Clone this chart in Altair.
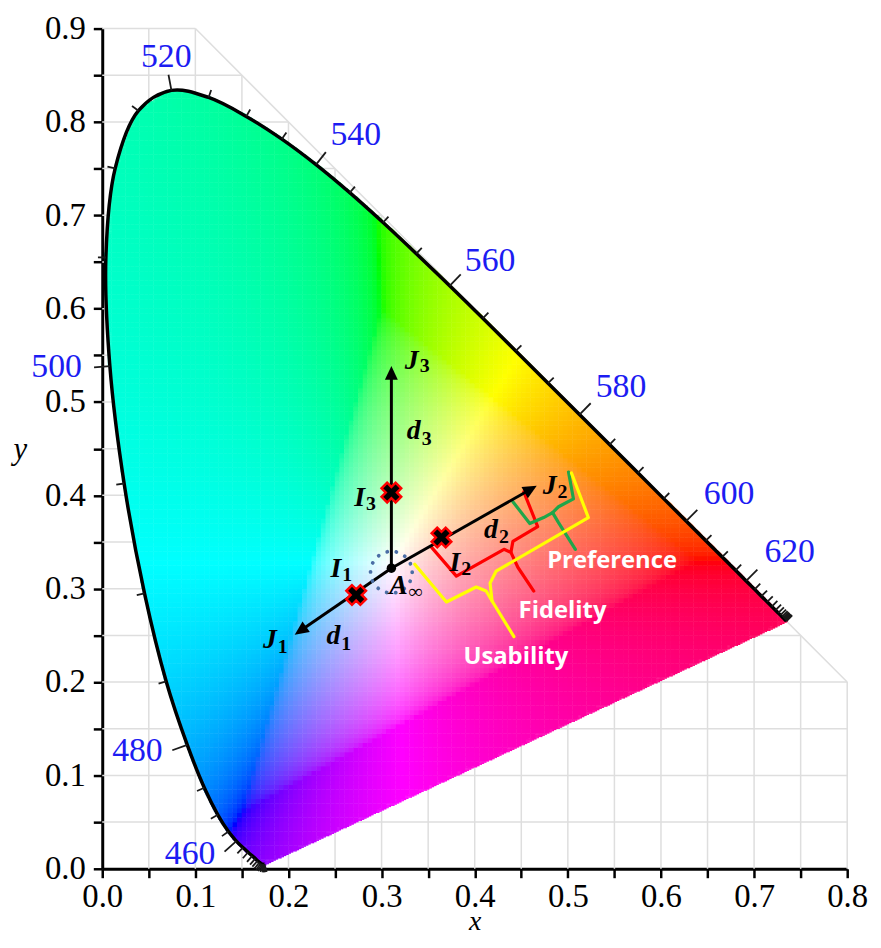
import numpy as np
import pandas as pd
import altair as alt

alt.data_transformers.disable_max_rows()

# ---------------- data ----------------
WAVELENGTH = list(range(380, 701, 5))
LOCUS_X = [0.1741, 0.1740, 0.1738, 0.1736, 0.1733, 0.1730, 0.1726, 0.1721, 0.1714, 0.1703,
           0.1689, 0.1669, 0.1644, 0.1611, 0.1566, 0.1510, 0.1440, 0.1355, 0.1241, 0.1096,
           0.0913, 0.0687, 0.0454, 0.0235, 0.0082, 0.0039, 0.0139, 0.0389, 0.0743, 0.1142,
           0.1547, 0.1929, 0.2296, 0.2658, 0.3016, 0.3373, 0.3731, 0.4087, 0.4441, 0.4788,
           0.5125, 0.5448, 0.5752, 0.6029, 0.6270, 0.6482, 0.6658, 0.6801, 0.6915, 0.7006,
           0.7079, 0.7140, 0.7190, 0.7230, 0.7260, 0.7283, 0.7300, 0.7311, 0.7320, 0.7327,
           0.7334, 0.7340, 0.7344, 0.7346, 0.7347]
LOCUS_Y = [0.0050, 0.0050, 0.0049, 0.0049, 0.0048, 0.0048, 0.0048, 0.0048, 0.0051, 0.0058,
           0.0069, 0.0086, 0.0109, 0.0138, 0.0177, 0.0227, 0.0297, 0.0399, 0.0578, 0.0868,
           0.1327, 0.2007, 0.2950, 0.4127, 0.5384, 0.6548, 0.7502, 0.8120, 0.8338, 0.8262,
           0.8059, 0.7816, 0.7543, 0.7243, 0.6923, 0.6589, 0.6245, 0.5896, 0.5547, 0.5202,
           0.4866, 0.4544, 0.4242, 0.3965, 0.3725, 0.3514, 0.3340, 0.3197, 0.3083, 0.2993,
           0.2920, 0.2859, 0.2809, 0.2770, 0.2740, 0.2717, 0.2700, 0.2689, 0.2680, 0.2673,
           0.2666, 0.2660, 0.2656, 0.2654, 0.2653]

LABEL_NM = ["460", "480", "500", "520", "540", "560", "580", "600", "620"]
LABEL_X = [0.0943, 0.0378, -0.0490, 0.0687, 0.2722, 0.4165, 0.5571, 0.6732, 0.7382]
LABEL_Y = [0.0154, 0.1259, 0.5377, 0.8692, 0.7858, 0.6514, 0.5164, 0.4011, 0.3395]

X_TICKS = [0.0, 0.05, 0.1, 0.15, 0.2, 0.25, 0.3, 0.35, 0.4, 0.45, 0.5, 0.55, 0.6, 0.65, 0.7, 0.75, 0.8]
Y_TICKS = [0.0, 0.05, 0.1, 0.15, 0.2, 0.25, 0.3, 0.35, 0.4, 0.45, 0.5, 0.55, 0.6, 0.65, 0.7, 0.75, 0.8,
           0.85, 0.9]
X_GRID = X_TICKS[1:]
Y_GRID = Y_TICKS[1:]

ORIGIN_X, ORIGIN_Y = 0.3105, 0.3220          # A_infinity
ARROW_TIP_X = [0.2067, 0.4666, 0.3105]       # J1, J2, J3
ARROW_TIP_Y = [0.2508, 0.4102, 0.5387]
MARK_X = [0.2727, 0.3643, 0.3105]            # I1, I2, I3
MARK_Y = [0.2933, 0.3549, 0.4030]
CIRCLE_X, CIRCLE_Y = 0.3105, 0.3177

# symbol labels: main letter ends / subscript starts at JOIN_X
MATH_MAIN = ["J", "d", "I", "I", "A", "J", "d", "I", "d", "J"]
MATH_SUB = ["3", "3", "3", "1", "∞", "1", "1", "2", "2", "2"]
JOIN_X = [0.3398, 0.3420, 0.2823, 0.2567, 0.3281, 0.1875, 0.2557, 0.3846, 0.4250, 0.4879]
MATH_MAIN_Y = [0.5440, 0.4686, 0.3974, 0.3209, 0.3028, 0.2455, 0.2497, 0.3273, 0.3623, 0.4102]
MATH_SUB_Y = [0.5387, 0.4601, 0.3910, 0.3145, 0.2965, 0.2380, 0.2412, 0.3209, 0.3549, 0.4038]

WORDS = ["Preference", "Fidelity", "Usability"]
WORD_X = [0.5475, 0.4943, 0.4442]
WORD_Y = [0.3294, 0.2763, 0.2263]

YELLOW_A_X = [0.3356, 0.3696, 0.4016, 0.4123, 0.4186, 0.4421]
YELLOW_A_Y = [0.3262, 0.2858, 0.3018, 0.2975, 0.2869, 0.2486]
YELLOW_B_X = [0.5039, 0.5220, 0.4229, 0.4165, 0.4186]
YELLOW_B_Y = [0.4240, 0.3762, 0.3188, 0.3060, 0.2869]
RED_A_X = [0.3537, 0.3803, 0.4314, 0.4389, 0.4463, 0.4634]
RED_A_Y = [0.3443, 0.3135, 0.3422, 0.3390, 0.3230, 0.2975]
RED_B_X = [0.4527, 0.4676, 0.4410, 0.4389]
RED_B_Y = [0.4038, 0.3666, 0.3507, 0.3390]
GREEN_A_X = [0.4410, 0.4591, 0.4740, 0.4836, 0.4900, 0.5081]
GREEN_A_Y = [0.3932, 0.3698, 0.3762, 0.3815, 0.3708, 0.3422]
GREEN_B_X = [0.5007, 0.5060, 0.4900, 0.4836]
GREEN_B_Y = [0.4250, 0.3963, 0.3878, 0.3815]

# ---------------- helpers ----------------
W, H = 751, 847
PXX = W / 0.8
PXY = H / 0.9
XS = alt.Scale(domain=[0, 0.8], nice=False, zero=False)
YS = alt.Scale(domain=[0, 0.9], nice=False, zero=False)
SERIF = "Liberation Serif, Times New Roman, serif"
LABEL_EXPR = "(round(datum.value*100) % 10 == 0) ? format(datum.value, '.1f') : ''"

x_axis = alt.Axis(values=X_TICKS, labelExpr=LABEL_EXPR,
                  title="x", grid=False, tickSize=9, tickWidth=2.5, tickColor="black",
                  domainColor="black", domainWidth=3, labelFont=SERIF,
                  labelFontSize=33, labelColor="black", labelPadding=3, labelFlush=False,
                  labelOverlap=False, titleFont=SERIF, titleFontSize=28,
                  titleFontStyle="italic", titleFontWeight="normal", titleColor="black",
                  titleBaseline="alphabetic", titleY=61)
y_axis = alt.Axis(values=Y_TICKS, labelExpr=LABEL_EXPR,
                  title="y", grid=False, tickSize=9, tickWidth=2.5, tickColor="black",
                  domainColor="black", domainWidth=3, labelFont=SERIF,
                  labelFontSize=33, labelColor="black", labelPadding=8, labelFlush=False,
                  labelOverlap=False, titleFont=SERIF, titleFontSize=31,
                  titleFontStyle="italic", titleFontWeight="normal", titleColor="black",
                  titleAngle=0, titleAlign="center", titleBaseline="alphabetic",
                  titleX=-83, titleY=433)


def X(f):
    return alt.X(f, type="quantitative", scale=XS, axis=x_axis, title="x")


def Y(f):
    return alt.Y(f, type="quantitative", scale=YS, axis=y_axis, title="y")


lx = np.array(LOCUS_X)
ly = np.array(LOCUS_Y)

# ---------- chromaticity colour field (cells clipped to the locus) ----------
fine = 0.00125
nxf, nyf = 592, 672
fx = (np.arange(nxf) + 0.5) * fine
fy = (np.arange(nyf) + 0.5) * fine
FX, FY = np.meshgrid(fx, fy)
inside = np.zeros(FX.shape, bool)
near = np.full(FX.shape, 1.0)
n = len(lx)
j = n - 1
for i in range(n):
    xi, yi, xj, yj = lx[i], ly[i], lx[j], ly[j]
    cond = ((yi > FY) != (yj > FY))
    with np.errstate(divide="ignore", invalid="ignore"):
        xcross = (xj - xi) * (FY - yi) / (yj - yi) + xi
    inside ^= cond & (FX < xcross)
    dx, dy = xj - xi, yj - yi
    L2 = dx * dx + dy * dy
    if L2 > 0:
        t = np.clip(((FX - xi) * dx + (FY - yi) * dy) / L2, 0, 1)
        near = np.minimum(near, np.hypot(FX - xi - t * dx, FY - yi - t * dy))
    j = i
mask = inside | (near < 0.0013)
B = mask.reshape(nyf // 4, 4, nxf // 4, 4)
full = B.all(axis=(1, 3))
partial = B.any(axis=(1, 3)) & ~full
fine_mask = mask & np.repeat(np.repeat(partial, 4, 0), 4, 1)


def xy_to_hex(x, y):
    Xc = x / y
    Zc = (1 - x - y) / y
    r = 3.2406 * Xc - 1.5372 - 0.4986 * Zc
    g = -0.9689 * Xc + 1.8758 + 0.0415 * Zc
    b = 0.0557 * Xc - 0.2040 + 1.0570 * Zc
    rgb = np.stack([r, g, b], -1)
    mn = rgb.min(-1, keepdims=True)
    rgb = np.where(mn < 0, rgb - mn, rgb)
    rgb = rgb / rgb.max(-1, keepdims=True)
    s = np.where(rgb <= 0.0031308, 12.92 * rgb, 1.055 * np.power(rgb, 1 / 2.4) - 0.055)
    v = np.round(np.clip(s, 0, 1) * 255).astype(int)
    return ["#%02x%02x%02x" % (a, b_, c) for a, b_, c in v]


ci, cj = np.nonzero(full)
cx = (cj + 0.5) * 0.005
cy = (ci + 0.5) * 0.005
coarse_df = pd.DataFrame({"x": np.round(cx, 5), "y": np.round(cy, 5), "c": xy_to_hex(cx, cy)})
fi, fj = np.nonzero(fine_mask)
fxx = (fj + 0.5) * fine
fyy = (fi + 0.5) * fine
fine_df = pd.DataFrame({"x": np.round(fxx, 6), "y": np.round(fyy, 6), "c": xy_to_hex(fxx, fyy)})

# ---------------- grid ----------------
grid_rows = []
for gx in X_GRID:
    grid_rows.append(dict(x=gx, y=0.0, x2=gx, y2=min(0.9, 1 - gx)))
for gy in Y_GRID:
    grid_rows.append(dict(x=0.0, y=gy, x2=min(0.8, 1 - gy), y2=gy))
grid_rows.append(dict(x=0.1, y=0.9, x2=0.8, y2=0.2))
grid_df = pd.DataFrame(grid_rows)

grid = alt.Chart(grid_df).mark_rule(color="#dedede", strokeWidth=1.5).encode(
    x=X("x"), y=Y("y"), x2="x2:Q", y2="y2:Q")

cells = alt.Chart(coarse_df).mark_square(size=27, opacity=1, filled=True, strokeWidth=0).encode(
    x=X("x"), y=Y("y"), color=alt.Color("c:N", scale=None))
cells_f = alt.Chart(fine_df).mark_square(size=2.4, opacity=1, filled=True, strokeWidth=0).encode(
    x=X("x"), y=Y("y"), color=alt.Color("c:N", scale=None))

locus_df = pd.DataFrame({"x": lx, "y": ly, "i": np.arange(n)})
locus = alt.Chart(locus_df).mark_line(color="black", strokeWidth=3.5, interpolate="catmull-rom",
                                       strokeJoin="round").encode(
    x=X("x"), y=Y("y"), order="i:Q")

# wavelength ticks (outward normals)
tx = np.gradient(lx)
ty = np.gradient(ly)
nrm = np.hypot(tx, ty)
nx_ = -ty / nrm
ny_ = tx / nrm
labeled = np.isin(np.array(WAVELENGTH), [int(v) for v in LABEL_NM])
tl = np.where(labeled, 16.0, 8.0) / PXX
tick_df = pd.DataFrame({"x": lx, "y": ly, "x2": lx + nx_ * tl, "y2": ly + ny_ * tl})
wticks = alt.Chart(tick_df).mark_rule(color="#1a1a1a", strokeWidth=1.8).encode(
    x=X("x"), y=Y("y"), x2="x2:Q", y2="y2:Q")

wlabels = alt.Chart(pd.DataFrame({"t": LABEL_NM, "x": LABEL_X, "y": LABEL_Y})).mark_text(
    font=SERIF, fontSize=34, color="#1c1cf2", align="center", baseline="middle").encode(
    x=X("x"), y=Y("y"), text="t:N")

# brackets
br_rows = []
for name, col, xs, ys in [("ya", "#ffff00", YELLOW_A_X, YELLOW_A_Y), ("yb", "#ffff00", YELLOW_B_X, YELLOW_B_Y),
                          ("ra", "#ff0000", RED_A_X, RED_A_Y), ("rb", "#ff0000", RED_B_X, RED_B_Y),
                          ("ga", "#1fa64a", GREEN_A_X, GREEN_A_Y), ("gb", "#1fa64a", GREEN_B_X, GREEN_B_Y)]:
    for k, (a, b) in enumerate(zip(xs, ys)):
        br_rows.append(dict(x=a, y=b, p=name, c=col, i=k))
br_df = pd.DataFrame(br_rows)


def bracket_layer(prefix):
    return alt.Chart(br_df[br_df.p.str.startswith(prefix)]).mark_line(
        strokeWidth=3.2, strokeJoin="round", strokeCap="round").encode(
        x=X("x"), y=Y("y"), detail="p:N", order="i:Q", color=alt.Color("c:N", scale=None))


# J axes
tipx = np.array(ARROW_TIP_X)
tipy = np.array(ARROW_TIP_Y)
dxp = (tipx - ORIGIN_X) * PXX
dyp = -(tipy - ORIGIN_Y) * PXY
lenp = np.hypot(dxp, dyp)
shrink = 6.0 / lenp
ang = np.degrees(np.arctan2(dxp, -dyp)) % 360
jl_df = pd.DataFrame({"x": [ORIGIN_X] * 3, "y": [ORIGIN_Y] * 3,
                      "x2": tipx - (tipx - ORIGIN_X) * shrink, "y2": tipy - (tipy - ORIGIN_Y) * shrink})
jlines = alt.Chart(jl_df).mark_rule(color="black", strokeWidth=3).encode(
    x=X("x"), y=Y("y"), x2="x2:Q", y2="y2:Q")
heads = alt.Chart(pd.DataFrame({"x": tipx, "y": tipy, "a": ang})).mark_point(
    shape="M0,0L0.65,1.4L-0.65,1.4Z", size=400, filled=True, opacity=1, color="black").encode(
    x=X("x"), y=Y("y"), angle=alt.Angle("a:Q", scale=None))

circle = alt.Chart(pd.DataFrame({"x": [CIRCLE_X], "y": [CIRCLE_Y]})).mark_point(
    shape="circle", filled=False, size=1764, stroke="#4b6ea5", strokeWidth=3.8,
    strokeDash=[0.1, 9.3], strokeCap="round", opacity=1).encode(x=X("x"), y=Y("y"))
dot = alt.Chart(pd.DataFrame({"x": [ORIGIN_X], "y": [ORIGIN_Y]})).mark_point(
    shape="circle", filled=True, size=90, color="black", opacity=1).encode(x=X("x"), y=Y("y"))

markers = alt.Chart(pd.DataFrame({"x": MARK_X, "y": MARK_Y})).mark_point(
    shape="cross", size=400, filled=True, fill="black", stroke="#ff0000", strokeWidth=2.5,
    opacity=1, angle=45).encode(x=X("x"), y=Y("y"))

math_main = alt.Chart(pd.DataFrame({"t": MATH_MAIN, "x": JOIN_X, "y": MATH_MAIN_Y})).mark_text(
    font=SERIF, fontSize=28, fontStyle="italic", fontWeight="bold", color="black",
    align="right", baseline="middle").encode(x=X("x"), y=Y("y"), text="t:N")
math_sub = alt.Chart(pd.DataFrame({"t": MATH_SUB, "x": JOIN_X, "y": MATH_SUB_Y})).mark_text(
    font=SERIF, fontSize=20, fontWeight="bold", color="black", dx=1,
    align="left", baseline="middle").encode(x=X("x"), y=Y("y"), text="t:N")

words = alt.Chart(pd.DataFrame({"t": WORDS, "x": WORD_X, "y": WORD_Y})).mark_text(
    font="Open Sans", fontSize=24, fontWeight="bold", color="white",
    align="center", baseline="middle").encode(x=X("x"), y=Y("y"), text="t:N")

chart = alt.layer(
    grid, cells, cells_f, locus, wticks, wlabels,
    bracket_layer("r"), bracket_layer("g"), bracket_layer("y"),
    jlines, heads, circle, dot, markers, math_main, math_sub, words
).properties(
    width=W, height=H,
    autosize=alt.AutoSizeParams(type="none"),
    padding={"left": 95, "top": 17, "right": 26, "bottom": 63},
    background="white",
).configure_view(stroke=None)

chart.save("out.html", embed_options={"renderer": "svg", "actions": False})
